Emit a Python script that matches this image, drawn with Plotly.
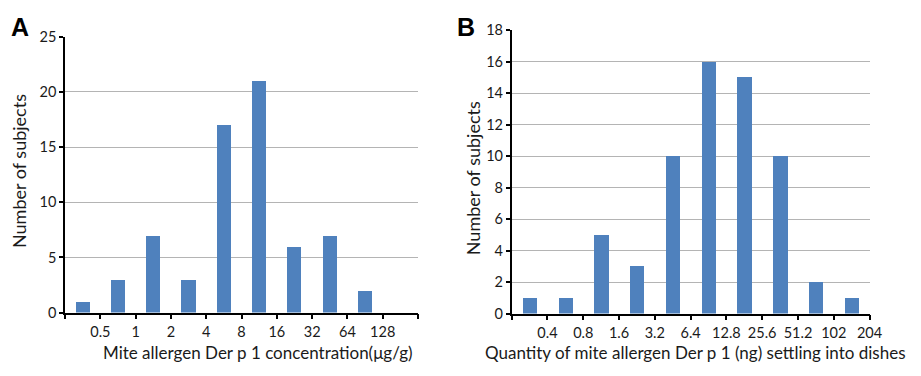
import plotly.graph_objects as go

# Panel A data
a_tick_labels = ["", "0.5", "1", "2", "4", "8", "16", "32", "64", "128", ""]
a_counts = [1, 3, 7, 3, 17, 21, 6, 7, 2, 0]

# Panel B data
b_tick_labels = ["", "0.4", "0.8", "1.6", "3.2", "6.4", "12.8", "25.6", "51.2", "102", "204"]
b_counts = [1, 1, 5, 3, 10, 16, 15, 10, 2, 1]

W, H = 921, 376
BAR = "#4F81BD"
FONT = "Lato"
TXT = "#1a1a1a"

fig = go.Figure()
fig.add_trace(go.Bar(x=[i + 0.5 for i in range(len(a_counts))], y=a_counts,
                     marker=dict(color=BAR, line=dict(width=0)), width=0.4,
                     xaxis="x", yaxis="y", showlegend=False))
fig.add_trace(go.Bar(x=[i + 0.5 for i in range(len(b_counts))], y=b_counts,
                     marker=dict(color=BAR, line=dict(width=0)), width=0.4,
                     xaxis="x2", yaxis="y2", showlegend=False))

def px_x(p):
    return p / W

def px_y(p):
    return 1 - p / H

common_x = dict(showgrid=False, zeroline=False, showline=True, linecolor="black", linewidth=1.5,
                ticks="outside", ticklen=5, tickwidth=1.5, tickcolor="black",
                tickfont=dict(family=FONT, size=14.5, color=TXT), tickmode="array", range=[0, 10])
common_y = dict(showgrid=True, gridcolor="#B4B4B4", gridwidth=1, zeroline=False, showline=True,
                linecolor="black", linewidth=1.5, ticks="outside", ticklen=4, tickwidth=1.5,
                tickcolor="black", tickfont=dict(family=FONT, size=14.5, color=TXT))

fig.update_layout(
    width=W, height=H, margin=dict(l=0, r=0, t=0, b=0),
    paper_bgcolor="white", plot_bgcolor="white", bargap=0,
    xaxis=dict(domain=[px_x(66), px_x(424)], anchor="y",
               tickvals=list(range(len(a_tick_labels))), ticktext=a_tick_labels, **common_x),
    yaxis=dict(domain=[px_y(318), px_y(29)], anchor="x", range=[0, 25], dtick=5, **common_y),
    xaxis2=dict(domain=[px_x(519), px_x(882)], anchor="y2",
                tickvals=list(range(len(b_tick_labels))), ticktext=b_tick_labels, **common_x),
    yaxis2=dict(domain=[px_y(319), px_y(22)], anchor="x2", range=[0, 18], dtick=2, **common_y),
)

ann = []
ann.append(dict(text="Number of subjects", x=px_x(20), y=px_y(170), xref="paper", yref="paper",
                textangle=-90, showarrow=False, font=dict(family=FONT, size=18, color=TXT),
                xanchor="center", yanchor="middle"))
ann.append(dict(text="Number of subjects", x=px_x(480), y=px_y(177), xref="paper", yref="paper",
                textangle=-90, showarrow=False, font=dict(family=FONT, size=18, color=TXT),
                xanchor="center", yanchor="middle"))
ann.append(dict(text="Mite allergen Der p 1 concentration(μg/g)", x=px_x(262), y=px_y(360),
                xref="paper", yref="paper", showarrow=False,
                font=dict(family=FONT, size=17, color=TXT), xanchor="center", yanchor="middle"))
ann.append(dict(text="Quantity of mite allergen Der p 1 (ng) settling into dishes", x=px_x(705),
                y=px_y(360), xref="paper", yref="paper", showarrow=False,
                font=dict(family=FONT, size=17, color=TXT), xanchor="center", yanchor="middle"))
ann.append(dict(text="<b>A</b>", x=px_x(20), y=px_y(19), xref="paper", yref="paper", showarrow=False,
                font=dict(family="Liberation Sans", size=25, color="black"),
                xanchor="center", yanchor="middle"))
ann.append(dict(text="<b>B</b>", x=px_x(473), y=px_y(19), xref="paper", yref="paper", showarrow=False,
                font=dict(family="Liberation Sans", size=25, color="black"),
                xanchor="center", yanchor="middle"))
fig.update_layout(annotations=ann)

fig.write_html("out.html", config={"displayModeBar": False},
               post_script="document.body.style.margin='0';document.body.style.overflow='hidden';")
